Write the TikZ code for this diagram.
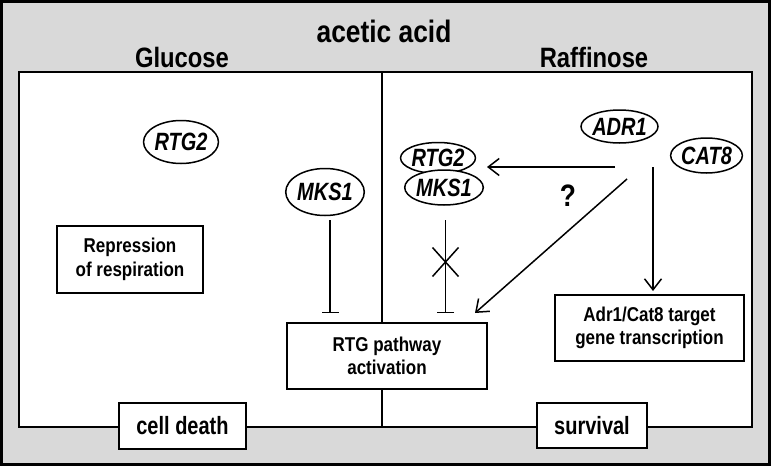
\documentclass[tikz,border=0pt]{standalone}
\usepackage{fontspec}
\setmainfont{Liberation Sans}[FakeStretch=0.85]
\newfontfamily\narrowfont{Liberation Sans}[FakeStretch=0.8]
\usetikzlibrary{shapes.geometric,arrows.meta}
\definecolor{panelgray}{HTML}{D9D9D9}
\begin{document}
\begin{tikzpicture}[x=1pt,y=-1pt,
  lw/.style={line width=1.5pt},
  gene/.style={ellipse,draw,lw,fill=white,inner sep=0pt,font=\narrowfont\fontsize{25}{27}\selectfont\bfseries\itshape},
  procbox/.style={rectangle,draw,lw,fill=white,inner sep=0pt,align=center,font=\fontsize{20}{23.5}\selectfont\bfseries},
  outbox/.style={rectangle,draw,lw,fill=white,inner sep=0pt,align=center,font=\narrowfont\fontsize{25}{27}\selectfont\bfseries},
  act/.style={lw,-{Straight Barb[length=11pt,width=17pt,line width=1.5pt]}},
  inh/.style={lw,-{Bar[width=17pt,line width=1.5pt]}},
  heading/.style={font=\fontsize{28}{30}\selectfont\bfseries}
]
\useasboundingbox (0,0) rectangle (771,466);
% outer panel
\draw[line width=3pt,fill=panelgray] (1.5,1.5) rectangle (769.5,464.5);
\node[font=\fontsize{31}{33}\selectfont\bfseries] (title) at (384,31) {acetic acid};
\node[heading] (gluc) at (182,57) {Glucose};
\node[heading] (raff) at (594,57) {Raffinose};
% inner panel
\draw[lw,fill=white] (19,72) rectangle (752,427);
\coordinate (divtop) at (382,72);
\coordinate (divbot) at (382,427);
\draw[lw] (divtop) -- (divbot);

% boxes
\node[procbox,minimum width=200pt,minimum height=66pt] (rtgbox) at (387,356) {RTG pathway\\activation};
\node[procbox,minimum width=146pt,minimum height=67pt] (repr) at (130,259.5) {Repression\\of respiration};
\node[procbox,minimum width=189pt,minimum height=66pt] (adrbox) at (649.5,328) {Adr1/Cat8 target\\gene transcription};
\node[outbox,minimum width=127pt,minimum height=46pt] (death) at (182.5,426) {cell death};
\node[outbox,minimum width=110pt,minimum height=45pt] (surv) at (592,425.5) {survival};

% genes left
\node[gene,minimum width=72pt,minimum height=43pt] (rtgL) at (181,142) {RTG2};
\node[gene,minimum width=73pt,minimum height=47pt] (mksL) at (325,192) {MKS1};
% genes right
\node[gene,minimum width=70pt,minimum height=31pt] (rtgR) at (438,158) {RTG2};
\node[gene,minimum width=72pt,minimum height=35pt] (mksR) at (444,187.5) {MKS1};
\node[gene,minimum width=71pt,minimum height=33pt] (adr) at (619.5,126.5) {ADR1};
\node[gene,minimum width=71pt,minimum height=35pt] (cat) at (706.5,155.5) {CAT8};

% connectors
\coordinate (inhLs) at (330,220);
\coordinate (inhLe) at (330,313);
\draw[inh] (inhLs) -- (inhLe);
\coordinate (inhRs) at (445.5,220);
\coordinate (inhRe) at (445.5,313);
\draw[inh] (inhRs) -- (inhRe);
\coordinate (cross) at (445.5,262);
\draw[lw] ([xshift=-13pt,yshift=14.5pt]cross) -- ([xshift=13pt,yshift=-14.5pt]cross);
\draw[lw] ([xshift=-13pt,yshift=-14.5pt]cross) -- ([xshift=13pt,yshift=14.5pt]cross);

\coordinate (hs) at (615,167);
\coordinate (he) at (487,167);
\draw[act] (hs) -- (he);
\coordinate (ds) at (627,179);
\coordinate (de) at (475,313);
\draw[act] (ds) -- (de);
\coordinate (vs) at (653,167);
\coordinate (ve) at (653,291);
\draw[act] (vs) -- (ve);
\node[font=\fontsize{31}{33}\selectfont\bfseries] (q) at (568,196) {?};
\end{tikzpicture}
\end{document}
